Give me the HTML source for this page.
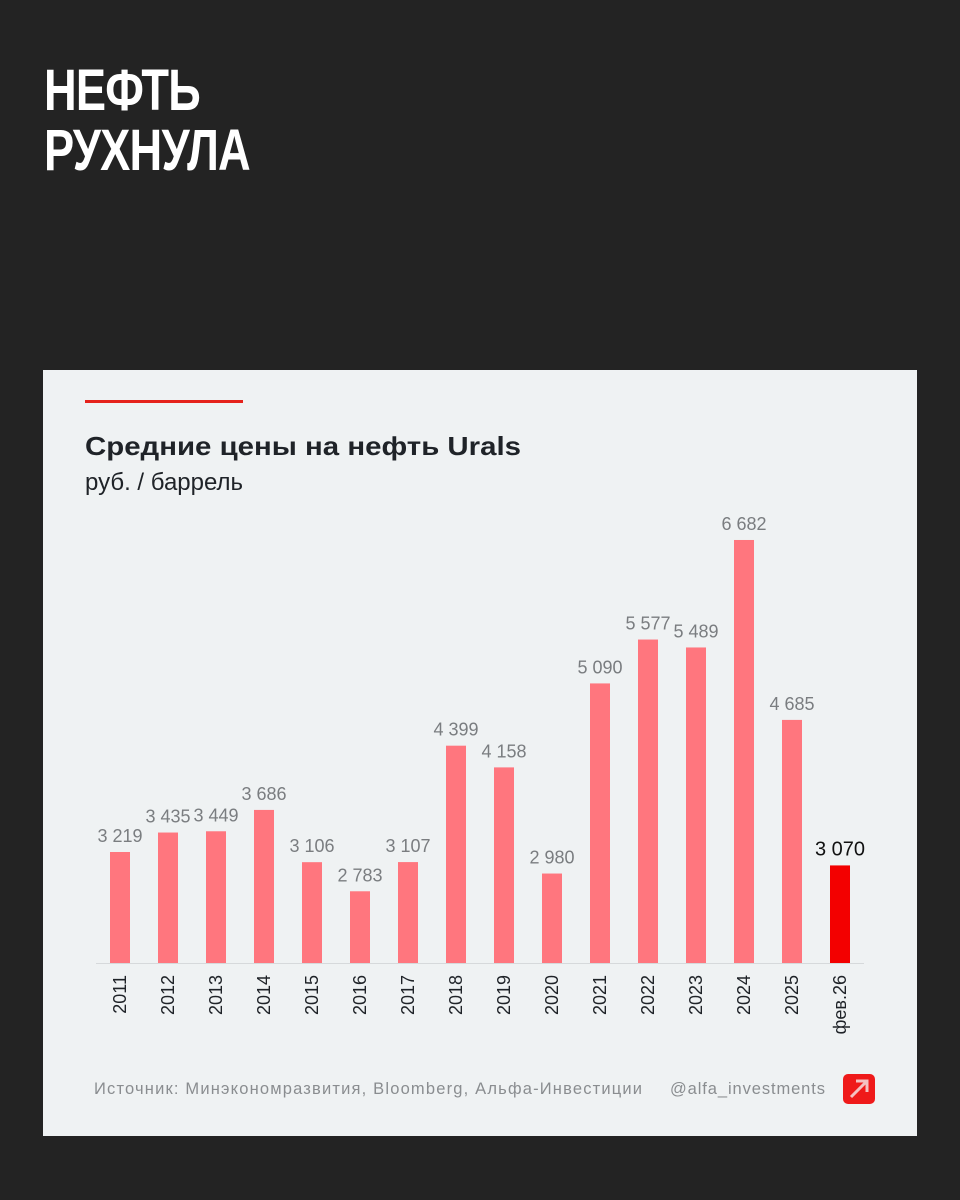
<!DOCTYPE html>
<html><head><meta charset="utf-8"><style>
body{margin:0;width:960px;height:1200px;background:#232323;overflow:hidden;font-family:"Liberation Sans",sans-serif}
.h{position:absolute;left:44px;color:#fff;font-weight:bold;font-size:58px;letter-spacing:-1px;transform:scaleX(0.78);transform-origin:left top;line-height:1}
</style></head><body>
<div class="h" style="top:62px">НЕФТЬ</div>
<div class="h" style="top:122px">РУХНУЛА</div>
<svg style="position:absolute;left:0;top:0" width="960" height="1200">
<rect x="43" y="370" width="874" height="766" fill="#eff2f3"/>
<rect x="85" y="400" width="158" height="3" fill="#e5221b"/>
<text x="85" y="455" font-size="26" font-weight="bold" fill="#1f2328" textLength="436" lengthAdjust="spacingAndGlyphs">Средние цены на нефть Urals</text>
<text x="85" y="490" font-size="24" fill="#1f2328">руб. / баррель</text>
<line x1="96" y1="963.5" x2="864" y2="963.5" stroke="#d6d9db" stroke-width="1"/>
<g id="bars"></g>
<text x="94" y="1094" font-size="16.5" fill="#8a8d90" textLength="548" lengthAdjust="spacing">Источник: Минэкономразвития, Bloomberg, Альфа-Инвестиции</text>
<text x="670" y="1094" font-size="16.5" fill="#8a8d90" textLength="155" lengthAdjust="spacing">@alfa_investments</text>
<g><rect x="843" y="1074" width="32" height="30" rx="5" fill="#ef1a1a"/>
<path d="M851 1097 L866 1082 M856 1081 H867 V1092" stroke="#f4c0c0" stroke-width="3" fill="none"/></g>
</svg>
<script>
const categories=["2011","2012","2013","2014","2015","2016","2017","2018","2019","2020","2021","2022","2023","2024","2025","фев.26"];
const values=[3219,3435,3449,3686,3106,2783,3107,4399,4158,2980,5090,5577,5489,6682,4685,3070];
const labels=["3 219","3 435","3 449","3 686","3 106","2 783","3 107","4 399","4 158","2 980","5 090","5 577","5 489","6 682","4 685","3 070"];
const yMin=1987,baseY=963,k=0.0901;
const y=v=>baseY-(v-yMin)*k;
const x=i=>120+i*48;
const g=document.getElementById('bars');const NS='http://www.w3.org/2000/svg';
categories.forEach((c,i)=>{
 const last=i===categories.length-1;
 const r=document.createElementNS(NS,'rect');
 r.setAttribute('x',x(i)-10);r.setAttribute('y',y(values[i]));r.setAttribute('width',20);r.setAttribute('height',baseY-y(values[i]));
 r.setAttribute('fill',last?'#f30000':'#ff767e');
 
 
 g.appendChild(r);
 const t=document.createElementNS(NS,'text');
 t.setAttribute('x',x(i));t.setAttribute('y',y(values[i])-10);t.setAttribute('text-anchor','middle');
 t.setAttribute('font-size',last?20:18);t.setAttribute('fill',last?'#111':'#7a7d80');t.textContent=labels[i];
 
 
 g.appendChild(t);
 const l=document.createElementNS(NS,'text');
 l.setAttribute('transform','translate('+(x(i)+6)+',975) rotate(-90)');l.setAttribute('text-anchor','end');
 l.setAttribute('font-size',18);l.setAttribute('fill','#1f2328');l.textContent=c;
 
 
 g.appendChild(l);
});
</script>
</body></html>
